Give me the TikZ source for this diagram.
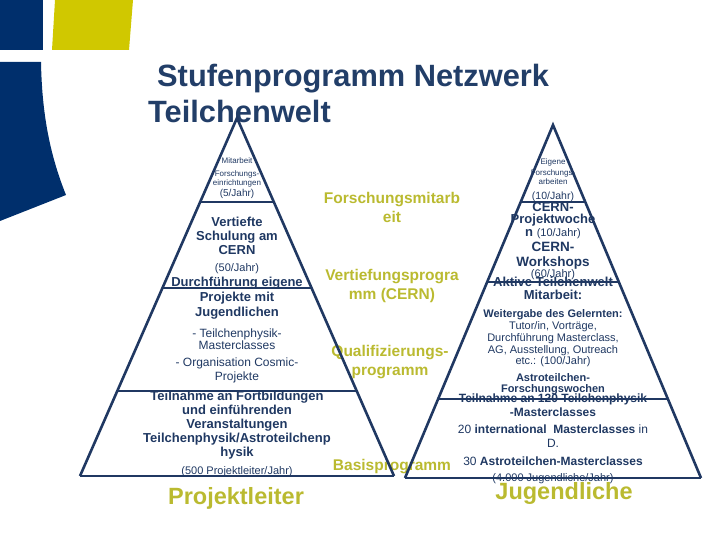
\documentclass[tikz,border=0pt]{standalone}
\usepackage{fontspec}
\setmainfont{Liberation Sans}
\usetikzlibrary{calc}
\definecolor{logoblue}{RGB}{0,47,108}
\definecolor{logoyellow}{RGB}{208,200,0}
\definecolor{tnavy}{RGB}{31,56,98}
\definecolor{ttitle}{RGB}{34,62,104}
\definecolor{lnavy}{RGB}{32,56,98}
\definecolor{tyellow}{RGB}{186,186,48}
\tikzset{
  txtbase/.style={inner sep=0pt, align=center, text=tnavy},
  tinytxt/.style={txtbase, font=\fontsize{8}{9}\selectfont},
  smalltxt/.style={txtbase, font=\fontsize{11}{12}\selectfont},
  midtxt/.style={txtbase, font=\fontsize{12}{13}\selectfont},
  boldtxt/.style={txtbase, font=\fontsize{13}{14}\selectfont\bfseries},
  yeltxt/.style={inner sep=0pt, align=center, text=tyellow, font=\fontsize{15.5}{19}\selectfont\bfseries},
  bigtxt/.style={inner sep=0pt, text=tyellow, font=\fontsize{23.5}{26}\selectfont\bfseries},
  titletxt/.style={inner sep=0pt, text=ttitle, font=\fontsize{30.8}{34}\selectfont\bfseries},
  pyline/.style={draw=lnavy, line width=2.6pt},
}
\begin{document}
\begin{tikzpicture}[x=1pt,y=-1pt]
\useasboundingbox (0,0) rectangle (720,540);
% logo
\fill[logoblue] (0,0) rectangle (43,50);
\fill[logoyellow] (55,0) -- (133,0) -- (129,50) -- (52,50) -- cycle;
\fill[logoblue] (0,62) -- (41,62) .. controls (42,120) and (52,160) .. (66,195) -- (0,221) -- cycle;
% title
\node[titletxt, anchor=base west] (title1) at (157,87) {Stufenprogramm Netzwerk};
\node[titletxt, anchor=base west] (title2) at (148,123) {Teilchenwelt};

% left pyramid texts
\node[tinytxt] (l1a) at (237,161) {Mitarbeit};
\node[tinytxt] (l1b) at (237,174) {Forschungs-};
\node[tinytxt] (l1c) at (237,183) {einrichtungen};
\node[txtbase, font=\fontsize{10}{11}\selectfont] (l1d) at (237,194) {(5/Jahr)};
\node[boldtxt, font=\fontsize{13}{14.3}\selectfont\bfseries] (l2) at (237,236) {Vertiefte\\Schulung am\\CERN};
\node[smalltxt] (l2b) at (237,269) {(50/Jahr)};
\node[boldtxt, font=\fontsize{13}{15}\selectfont\bfseries] (l3) at (237,298) {Durchführung eigene\\Projekte mit\\Jugendlichen};
\node[midtxt, font=\fontsize{12}{12.5}\selectfont] (l3b) at (237,339) {- Teilchenphysik-\\Masterclasses};
\node[midtxt, font=\fontsize{12}{14}\selectfont] (l3c) at (237,370) {- Organisation Cosmic-\\Projekte};
\node[boldtxt] (l4) at (237,425) {Teilnahme an Fortbildungen\\und einführenden\\Veranstaltungen\\Teilchenphysik/Astroteilchenp\\hysik};
\node[smalltxt] (l4b) at (237,472) {(500 Projektleiter/Jahr)};
\node[bigtxt] (lbig) at (236,498) {Projektleiter};

% middle labels
\node[yeltxt] (m1) at (392,207.5) {Forschungsmitarb\\eit};
\node[yeltxt] (m2) at (392,285.5) {Vertiefungsprogra\\mm (CERN)};
\node[yeltxt] (m3) at (390,362.5) {Qualifizierungs-\\programm};
\node[yeltxt] (m4) at (392,467) {Basisprogramm};

% right pyramid texts
\node[tinytxt] (r1a) at (553,162) {Eigene};
\node[tinytxt] (r1b) at (553,173) {Forschungs-};
\node[tinytxt] (r1c) at (553,182) {arbeiten};
\node[txtbase, font=\fontsize{10.5}{11}\selectfont] (r1d) at (553,197) {(10/Jahr)};
\node[boldtxt, font=\fontsize{13}{12.5}\selectfont\bfseries] (r2) at (553,220.5) {CERN-\\Projektwoche\\n {\mdseries\fontsize{11}{12}\selectfont (10/Jahr)}};
\node[boldtxt, font=\fontsize{13.5}{15}\selectfont\bfseries] (r2b) at (553,255.5) {CERN-\\Workshops};
\node[smalltxt] (r2c) at (553,275) {(60/Jahr)};
\node[boldtxt, font=\fontsize{13}{13}\selectfont\bfseries] (r3) at (553,288.5) {Aktive Teilchenwelt\\Mitarbeit:};
\node[smalltxt, font=\fontsize{11}{11.75}\selectfont] (r3b) at (553,338.5) {\textbf{Weitergabe des Gelernten:}\\Tutor/in, Vorträge,\\Durchführung Masterclass,\\AG, Ausstellung, Outreach\\etc.: (100/Jahr)};
\node[smalltxt, font=\fontsize{11}{11}\selectfont\bfseries] (r3c) at (553,384.5) {Astroteilchen-\\Forschungswochen};
\node[midtxt, font=\fontsize{12}{14}\selectfont\bfseries] (r4) at (553,405) {Teilnahme an 120 Teilchenphysik\\-Masterclasses};
\node[midtxt, font=\fontsize{12}{14}\selectfont] (r4b) at (553,436) {20 \textbf{international}\ \ \textbf{Masterclasses} in\\D.};
\node[midtxt] (r4c) at (553,461) {30 \textbf{Astroteilchen-Masterclasses}};
\node[smalltxt] (r4d) at (553,479) {(4.000 Jugendliche/Jahr)};
\node[bigtxt] (rbig) at (564,493) {Jugendliche};

% left pyramid
\coordinate (LA) at (237,118);
\coordinate (LL) at (80,476);
\coordinate (LR) at (394,476);
\draw[pyline] (LL) -- (LA) -- (LR);
\foreach \t in {0.2346,0.4749,0.7626}
  \draw[pyline] ($(LA)!\t!(LL)$) -- ($(LA)!\t!(LR)$);
\draw[pyline] (LL) -- (LR);
% right pyramid
\coordinate (RA) at (553,125);
\coordinate (RL) at (405,478);
\coordinate (RR) at (701,478);
\draw[pyline] (RL) -- (RA) -- (RR);
\foreach \t in {0.2181,0.4448,0.7762}
  \draw[pyline] ($(RA)!\t!(RL)$) -- ($(RA)!\t!(RR)$);
\draw[pyline] (RL) -- (RR);
\end{tikzpicture}
\end{document}
